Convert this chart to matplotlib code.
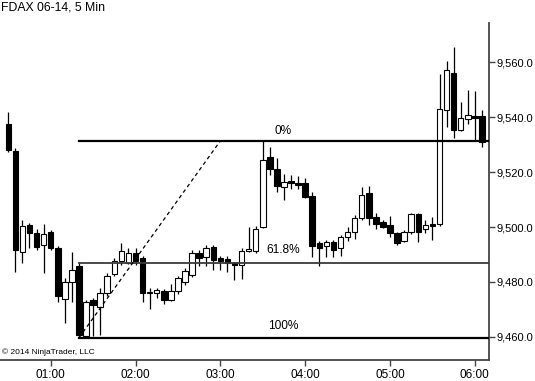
import matplotlib
matplotlib.use("Agg")
import matplotlib.pyplot as plt
from matplotlib.patches import Rectangle
from matplotlib.ticker import FuncFormatter

# ---- data (5-min bars starting 00:30) ----
opens = [9537.5, 9527.7, 9491.0, 9500.7, 9497.7, 9493.5, 9498.3, 9492.4, 9473.8, 9480.1,
         9485.6, 9460.1, 9473.5, 9470.8, 9475.9, 9482.9, 9487.6, 9487.0, 9490.4, 9488.6,
         9475.9, 9475.9, 9476.7, 9473.5, 9476.5, 9479.8, 9482.5, 9490.7, 9488.9, 9492.8,
         9488.6, 9488.3, 9487.0, 9486.2, 9491.2, 9491.2, 9500.1, 9525.6, 9521.3, 9514.7,
         9516.7, 9515.9, 9515.9, 9511.3, 9494.1, 9493.1, 9494.7, 9492.3, 9496.3, 9498.3,
         9503.2, 9512.5, 9503.5, 9502.0, 9500.7, 9497.7, 9495.0, 9498.3, 9504.7, 9499.2,
         9501.1, 9501.1, 9542.8, 9556.3, 9535.3, 9539.5, 9540.4, 9540.4]
highs = [9541.8, 9528.7, 9502.5, 9501.5, 9499.3, 9501.0, 9499.0, 9493.2, 9481.5, 9491.0,
         9487.0, 9473.2, 9474.0, 9477.8, 9483.3, 9488.6, 9494.3, 9492.3, 9492.3, 9489.5,
         9477.7, 9477.7, 9477.3, 9479.2, 9482.0, 9485.0, 9491.6, 9491.6, 9493.5, 9493.5,
         9489.5, 9489.5, 9487.3, 9492.5, 9500.0, 9500.3, 9531.9, 9529.2, 9525.0, 9519.5,
         9518.9, 9518.5, 9517.7, 9512.8, 9495.0, 9495.2, 9495.3, 9497.1, 9500.0, 9504.4,
         9514.7, 9514.9, 9505.2, 9502.5, 9504.0, 9498.3, 9499.0, 9505.0, 9505.2, 9502.5,
         9503.5, 9555.9, 9560.7, 9565.8, 9545.6, 9549.8, 9549.6, 9542.5]
lows = [9527.3, 9483.7, 9487.0, 9492.4, 9491.6, 9483.3, 9491.5, 9472.8, 9465.1, 9472.8,
        9459.6, 9459.8, 9460.1, 9460.7, 9475.0, 9482.0, 9486.2, 9486.5, 9486.2, 9472.5,
        9470.1, 9474.1, 9471.9, 9473.0, 9475.5, 9479.0, 9481.9, 9485.6, 9485.8, 9484.4,
        9484.4, 9483.7, 9480.5, 9481.0, 9490.8, 9490.5, 9499.5, 9518.9, 9512.8, 9510.0,
        9513.7, 9514.0, 9510.4, 9489.2, 9485.8, 9489.2, 9489.2, 9489.5, 9495.0, 9495.6,
        9502.5, 9500.7, 9499.2, 9499.5, 9496.3, 9493.5, 9494.5, 9497.5, 9494.7, 9497.7,
        9495.3, 9500.5, 9536.5, 9532.6, 9535.0, 9537.7, 9531.6, 9529.2]
closes = [9528.0, 9491.6, 9500.4, 9497.9, 9492.6, 9497.5, 9492.5, 9474.7, 9480.1, 9484.4,
          9460.7, 9472.8, 9471.6, 9475.9, 9482.2, 9487.6, 9491.3, 9490.4, 9487.6, 9475.9,
          9476.2, 9477.1, 9473.5, 9476.7, 9481.3, 9484.0, 9490.4, 9488.6, 9492.2, 9488.0,
          9487.6, 9487.0, 9486.2, 9491.3, 9491.9, 9499.3, 9524.6, 9521.3, 9515.0, 9516.5,
          9515.9, 9515.3, 9511.0, 9493.1, 9492.3, 9494.7, 9491.6, 9496.3, 9498.3, 9503.2,
          9511.6, 9503.2, 9501.1, 9500.1, 9497.7, 9494.1, 9498.3, 9504.7, 9498.0, 9500.7,
          9500.4, 9543.2, 9557.1, 9535.3, 9539.9, 9540.7, 9539.9, 9531.0]

# Fibonacci retracement anchors (bar index, price)
fib_start_bar, fib_low = 10, 9459.6
fib_end_bar, fib_high = 30, 9531.4
fib_levels = [0.0, 0.618, 1.0]
fib_labels = ["0%", "61.8%", "100%"]

tick_bars = [6, 18, 30, 42, 54, 66]
tick_labels = ["01:00", "02:00", "03:00", "04:00", "05:00", "06:00"]
y_ticks = [9460, 9480, 9500, 9520, 9540, 9560]

FONT = ["Liberation Sans", "DejaVu Sans"]

fig = plt.figure(figsize=(5.35, 3.81), dpi=100)
ax = fig.add_axes([0.0, 0.0551, 0.914, 0.8853])

width = 0.78
for i, (o, h, l, c) in enumerate(zip(opens, highs, lows, closes)):
    up = c >= o
    lo_b, hi_b = min(o, c), max(o, c)
    ax.plot([i, i], [l, lo_b], color="black", lw=0.9, zorder=2, solid_capstyle="butt")
    ax.plot([i, i], [hi_b, h], color="black", lw=0.9, zorder=2, solid_capstyle="butt")
    body_h = max(hi_b - lo_b, 0.35)
    ax.add_patch(Rectangle((i - width / 2, lo_b), width, body_h,
                           facecolor="white" if up else "black",
                           edgecolor="black", lw=0.8, zorder=3))

# Fibonacci lines
rng = fib_high - fib_low
for lev, lab in zip(fib_levels, fib_labels):
    price = fib_high - lev * rng
    col = "#3a3a3a" if lev == 0.618 else "black"
    lw = 1.3 if lev == 0.618 else 1.6
    ax.plot([fib_start_bar, 68.2], [price, price], color=col, lw=lw, zorder=4)
    off = 2.5 if lev == 0.0 else 4.5
    ax.annotate(lab, xy=(38.85, price), xytext=(0, off), textcoords="offset points",
                ha="center", va="bottom", fontsize=8.6, family=FONT, zorder=5)

ax.plot([fib_start_bar, fib_end_bar], [fib_low, fib_high], color="black",
        lw=0.9, ls=(0, (3, 2.5)), zorder=4)

ax.set_xlim(-1.17, 68.0)
ax.set_ylim(9451.5, 9574.5)

ax.yaxis.tick_right()
ax.set_yticks(y_ticks)
ax.yaxis.set_major_formatter(FuncFormatter(lambda v, p: f"{v:,.1f}"))
ax.set_xticks(tick_bars)
ax.set_xticklabels(tick_labels)

for s in ["left", "top"]:
    ax.spines[s].set_visible(False)
for s in ["right", "bottom"]:
    ax.spines[s].set_color("#444444")
    ax.spines[s].set_linewidth(1.3)

ax.tick_params(axis="y", direction="out", length=4, width=1.0, color="#444444",
               labelsize=8, pad=1.5)
ax.tick_params(axis="x", direction="out", length=4, width=1.0, color="#444444",
               labelsize=8.5, pad=2.5)
for lbl in ax.get_xticklabels() + ax.get_yticklabels():
    lbl.set_family(FONT)

fig.text(0.002, 0.995, "FDAX 06-14, 5 Min", ha="left", va="top", fontsize=8.8, family=FONT)
ax.text(0.004, 0.012, "\u00a9 2014 NinjaTrader, LLC", transform=ax.transAxes,
        ha="left", va="bottom", fontsize=6, family=FONT)

fig.savefig("out.png", dpi=100)
